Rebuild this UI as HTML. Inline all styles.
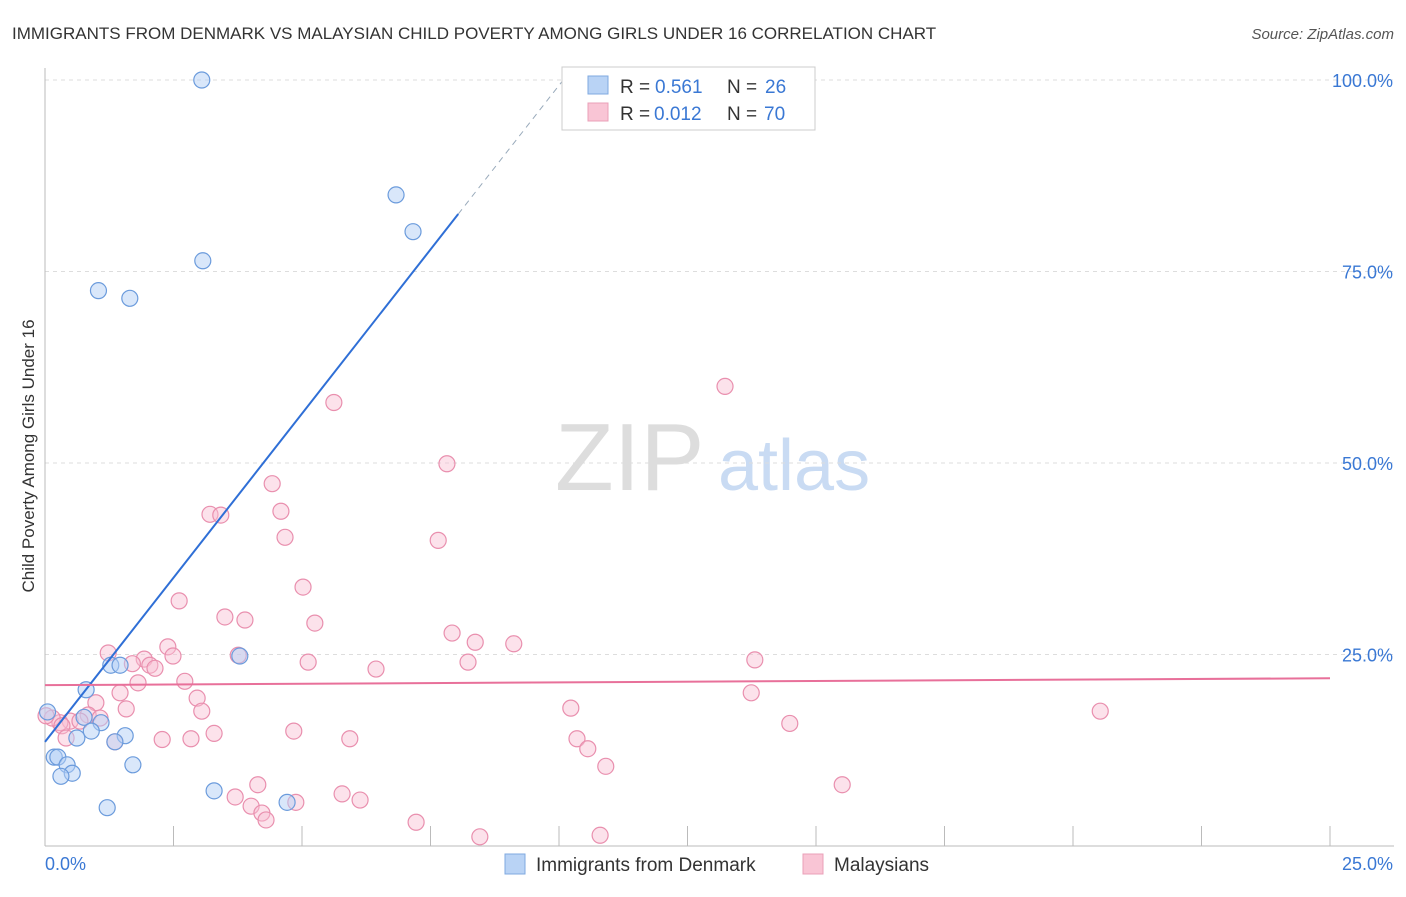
<!DOCTYPE html>
<html><head><meta charset="utf-8"><style>
body{margin:0;background:#fff;font-family:"Liberation Sans",sans-serif}
svg text{font-family:"Liberation Sans",sans-serif}
</style></head><body>
<svg id="c" width="1406" height="892">
<text x="12" y="39" font-size="17" fill="#333">IMMIGRANTS FROM DENMARK VS MALAYSIAN CHILD POVERTY AMONG GIRLS UNDER 16 CORRELATION CHART</text>
<text x="1394" y="39" font-size="15" fill="#555" font-style="italic" text-anchor="end">Source: ZipAtlas.com</text>
<text x="34" y="456" font-size="17" fill="#333" text-anchor="middle" transform="rotate(-90 34 456)">Child Poverty Among Girls Under 16</text>
<text x="555" y="490" font-size="96" fill="#ddd" font-family="Liberation Serif">ZIP</text>
<text x="718" y="490" font-size="72" fill="#c9dbf3">atlas</text>
<g id="grid"></g><g id="marks"></g>
<g>
<rect x="562" y="67" width="253" height="63" fill="#fff" stroke="#ccc"/>
<rect x="588" y="76" width="20" height="18" fill="#b9d3f5" stroke="#7fa9e0"/>
<rect x="588" y="103" width="20" height="18" fill="#f9c5d5" stroke="#eaa0b8"/>
<text x="620" y="93" font-size="19" fill="#333">R =</text>
<text x="655" y="93" font-size="19" fill="#3a78d4">0.561</text>
<text x="727" y="93" font-size="19" fill="#333">N =</text>
<text x="765" y="93" font-size="19" fill="#3a78d4">26</text>
<text x="620" y="120" font-size="19" fill="#333">R =</text>
<text x="654" y="120" font-size="19" fill="#3a78d4">0.012</text>
<text x="727" y="120" font-size="19" fill="#333">N =</text>
<text x="764" y="120" font-size="19" fill="#3a78d4">70</text>
</g>
<g>
<rect x="505" y="854" width="20" height="20" fill="#b9d3f5" stroke="#7fa9e0"/>
<text x="536" y="871" font-size="19" fill="#333">Immigrants from Denmark</text>
<rect x="803" y="854" width="20" height="20" fill="#f9c5d5" stroke="#eaa0b8"/>
<text x="834" y="871" font-size="19" fill="#333">Malaysians</text>
</g>
</svg>
<script>
const yTicks=[25,50,75,100];
const yTickLabels=["25.0%","50.0%","75.0%","100.0%"];
const blueX=[3.05,6.83,7.16,3.07,1.04,1.65,3.79,1.28,1.46,0.80,1.09,0.76,0.90,0.62,1.56,1.36,0.18,0.25,0.43,0.53,0.31,1.71,3.29,1.21,4.71,0.05];
const blueY=[100,85,80.2,76.4,72.5,71.5,24.8,23.6,23.6,20.4,16.1,16.8,15.0,14.1,14.4,13.6,11.6,11.6,10.6,9.5,9.1,10.6,7.2,5.0,5.7,17.5];
const pinkX=[13.23,5.62,7.82,4.42,4.59,3.21,3.42,4.67,7.65,5.02,2.61,3.50,3.89,5.25,7.92,8.37,9.12,2.39,1.23,2.49,3.76,1.93,1.70,2.04,2.14,5.12,8.23,6.44,13.81,1.81,2.72,1.46,13.74,2.96,0.99,1.58,3.05,10.23,20.53,0.84,1.07,0.49,0.29,0.14,0.02,0.33,0.41,14.49,4.84,3.29,2.28,2.84,5.93,10.35,10.56,10.91,4.14,15.51,5.78,3.70,6.13,4.88,4.01,4.22,4.30,7.22,8.46,10.80,1.36,0.68];
const pinkY=[60.0,57.9,49.9,47.3,43.7,43.3,43.2,40.3,39.9,33.8,32.0,29.9,29.5,29.1,27.8,26.6,26.4,26.0,25.2,24.8,24.9,24.4,23.8,23.6,23.2,24.0,24.0,23.1,24.3,21.3,21.5,20.0,20.0,19.3,18.7,17.9,17.6,18.0,17.6,17.1,16.7,16.3,16.1,16.7,17.0,15.7,14.1,16.0,15.0,14.7,13.9,14.0,14.0,14.0,12.7,10.4,8.0,8.0,6.8,6.4,6.0,5.7,5.2,4.3,3.4,3.1,1.2,1.4,13.6,16.3];
const blueFit=[13.6,82.5,8.04];
const pinkFit=[21.0,21.9];
const NS="http://www.w3.org/2000/svg";
const X0=45,X1=1330,Y0=846,Y100=80;
const xs=v=>X0+v/25*(X1-X0), ys=v=>Y0-v/100*(Y0-Y100);
function mk(t,a,p){const e=document.createElementNS(NS,t);for(const k in a)e.setAttribute(k,a[k]);p.appendChild(e);return e;}
const g=document.getElementById('grid'),m=document.getElementById('marks');
yTicks.forEach((t,i)=>{
 const l=mk('line',{x1:X0,x2:1394,y1:ys(t),y2:ys(t),stroke:'#ddd','stroke-dasharray':'4 4'},g);
 
 const tx=mk('text',{x:1393,y:ys(t)+7,'font-size':18,fill:'#3a78d4','text-anchor':'end'},g);tx.textContent=yTickLabels[i];
 
});
const ax=mk('line',{x1:X0,x2:X0,y1:68,y2:Y0,stroke:'#bbb'},g);
const bx=mk('line',{x1:X0,x2:1394,y1:Y0,y2:Y0,stroke:'#bbb'},g);
for(let i=1;i<=10;i++){const t=mk('line',{x1:xs(i*2.5),x2:xs(i*2.5),y1:Y0,y2:826,stroke:'#bbb'},g);}
[["0.0%",X0,'start'],["25.0%",1393,'end']].forEach(d=>{const t=mk('text',{x:d[1],y:870,'font-size':18,fill:'#3a78d4','text-anchor':d[2]},g);t.textContent=d[0];});
pinkX.forEach((v,i)=>{const c=mk('circle',{cx:xs(v),cy:ys(pinkY[i]),r:8,fill:'rgba(248,190,210,0.45)',stroke:'#e98fae','stroke-width':1.2},m);
 });
blueX.forEach((v,i)=>{const c=mk('circle',{cx:xs(v),cy:ys(blueY[i]),r:8,fill:'rgba(180,208,245,0.5)',stroke:'#6b9bdc','stroke-width':1.2},m);
 });
const slope=(blueFit[1]-blueFit[0])/blueFit[2];
const bl=mk('line',{x1:xs(0),y1:ys(blueFit[0]),x2:xs(blueFit[2]),y2:ys(blueFit[1]),stroke:'#2f6fd6','stroke-width':2},m);

const xe=(101.5-blueFit[0])/slope;
const bd=mk('line',{x1:xs(blueFit[2]),y1:ys(blueFit[1]),x2:xs(xe),y2:ys(101.5),stroke:'#9ab',"stroke-dasharray":'6 5','stroke-width':1},m);

const pl=mk('line',{x1:xs(0),y1:ys(pinkFit[0]),x2:xs(25),y2:ys(pinkFit[1]),stroke:'#e8709a','stroke-width':2},m);

</script>
</body></html>
